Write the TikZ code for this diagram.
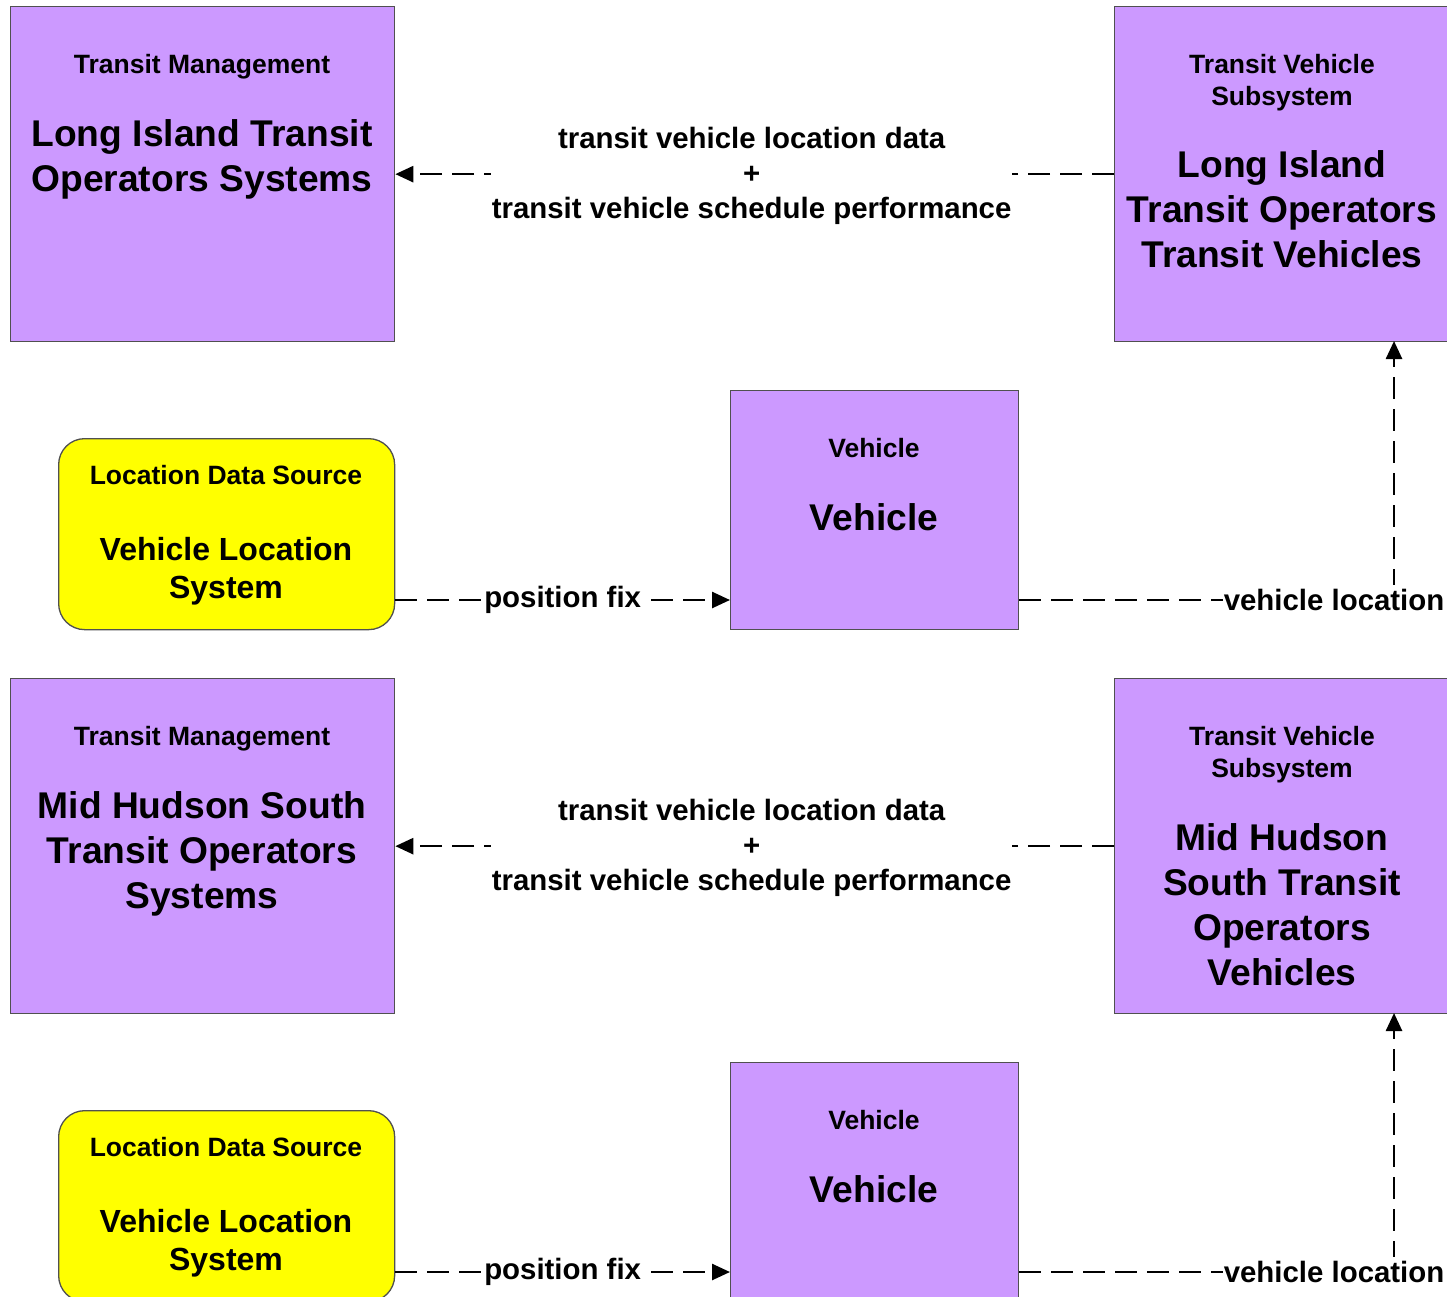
\documentclass[tikz,border=0pt]{standalone}
\usepackage{fontspec}
\setmainfont{Liberation Sans}
\usetikzlibrary{arrows.meta}
\definecolor{boxpurple}{HTML}{CC99FF}
\definecolor{boxyellow}{HTML}{FFFF00}
\definecolor{boxline}{HTML}{505050}
\begin{document}
\begin{tikzpicture}[x=1pt,y=-1pt,
  pbox/.style={draw=boxline,line width=1.3pt,fill=boxpurple,inner sep=0pt},
  ybox/.style={draw=boxline,line width=1.3pt,fill=boxyellow,rounded corners=26pt,inner sep=0pt},
  titletext/.style={anchor=north,align=center,inner sep=0pt,font=\bfseries\fontsize{26.5}{32}\selectfont},
  nametext/.style={anchor=north,align=center,inner sep=0pt,font=\bfseries\fontsize{37.2}{45}\selectfont},
  ynametext/.style={anchor=north,align=center,inner sep=0pt,font=\bfseries\fontsize{32}{38}\selectfont},
  flow/.style={line width=2.6pt,dash pattern=on 22pt off 10pt,-{Triangle[length=18pt,width=16pt]}},
  flowlabel/.style={fill=white,inner sep=1pt,align=center,font=\bfseries\fontsize{29.4}{35}\selectfont}]
\useasboundingbox (0,0) rectangle (1447,1297);
\clip (0,0) rectangle (1447,1297);
\fill[white] (0,0) rectangle (1447,1297);

% ---------- upper group ----------
\node[pbox,minimum width=384pt,minimum height=335pt,anchor=north west] (tm1) at (10,6) {};
\node[pbox,minimum width=336pt,minimum height=335pt,anchor=north west] (tvs1) at (1114,6) {};
\node[ybox,minimum width=336pt,minimum height=191pt,anchor=north west] (vls1) at (58,438) {};
\node[pbox,minimum width=288pt,minimum height=239pt,anchor=north west] (veh1) at (730,390) {};

\node[titletext] (tm1t) at (202,54.2) {Transit Management};
\node[nametext] (tm1n) at (202,119.3) {Long Island Transit\\Operators Systems};
\node[titletext] (tvs1t) at (1282,54.2) {Transit Vehicle\\Subsystem};
\node[nametext] (tvs1n) at (1282,150.3) {Long Island\\Transit Operators\\Transit Vehicles};
\node[titletext] (vls1t) at (226,465.2) {Location Data Source};
\node[ynametext] (vls1n) at (226,537.2) {Vehicle Location\\System};
\node[titletext] (veh1t) at (874,438.2) {Vehicle};
\node[nametext] (veh1n) at (874,503.3) {Vehicle};

\coordinate (tvs1in) at (1394,341);
\draw[flow] (tvs1.west) -- node[flowlabel,yshift=-2pt,xshift=-3pt] (f1) {transit vehicle location data\\+\\transit vehicle schedule performance} (tm1.east);
\draw[flow] (vls1.east |- 0,600) -- node[flowlabel] (f2) {position fix} (veh1.west |- 0,600);
\draw[flow] (veh1.east |- 0,600) -| node[flowlabel,pos=0.42,inner ysep=4pt] (f3) {vehicle location} (tvs1in);

% ---------- lower group ----------
\node[pbox,minimum width=384pt,minimum height=335pt,anchor=north west] (tm2) at (10,678) {};
\node[pbox,minimum width=336pt,minimum height=335pt,anchor=north west] (tvs2) at (1114,678) {};
\node[ybox,minimum width=336pt,minimum height=191pt,anchor=north west] (vls2) at (58,1110) {};
\node[pbox,minimum width=288pt,minimum height=239pt,anchor=north west] (veh2) at (730,1062) {};

\node[titletext] (tm2t) at (202,726.2) {Transit Management};
\node[nametext] (tm2n) at (202,791.3) {Mid Hudson South\\Transit Operators\\Systems};
\node[titletext] (tvs2t) at (1282,726.2) {Transit Vehicle\\Subsystem};
\node[nametext] (tvs2n) at (1282,823.3) {Mid Hudson\\South Transit\\Operators\\Vehicles};
\node[titletext] (vls2t) at (226,1137.2) {Location Data Source};
\node[ynametext] (vls2n) at (226,1209.2) {Vehicle Location\\System};
\node[titletext] (veh2t) at (874,1110.2) {Vehicle};
\node[nametext] (veh2n) at (874,1175.3) {Vehicle};

\coordinate (tvs2in) at (1394,1013);
\draw[flow] (tvs2.west) -- node[flowlabel,yshift=-2pt,xshift=-3pt] (f4) {transit vehicle location data\\+\\transit vehicle schedule performance} (tm2.east);
\draw[flow] (vls2.east |- 0,1272) -- node[flowlabel] (f5) {position fix} (veh2.west |- 0,1272);
\draw[flow] (veh2.east |- 0,1272) -| node[flowlabel,pos=0.42,inner ysep=4pt] (f6) {vehicle location} (tvs2in);
\end{tikzpicture}
\end{document}
